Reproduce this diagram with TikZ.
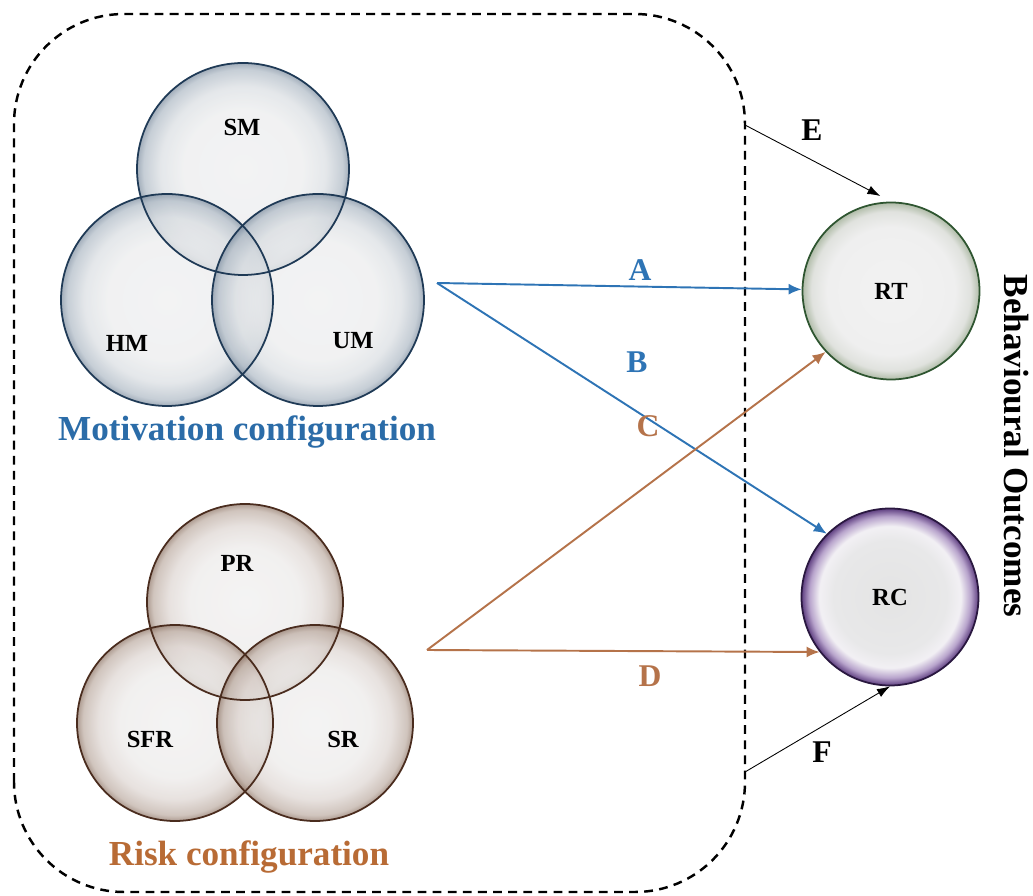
\documentclass[tikz,border=0pt]{standalone}
\usepackage{fontspec}
\setmainfont{Liberation Serif}
\usetikzlibrary{arrows.meta,positioning,calc}
\definecolor{MotBlue}{HTML}{2B6CA8}
\definecolor{ArrBlue}{HTML}{2E74B5}
\definecolor{RiskBrown}{HTML}{B86B35}
\definecolor{ArrBrown}{HTML}{B5734A}
\definecolor{MotLine}{HTML}{1F3A56}
\definecolor{RiskLine}{HTML}{4A2C1E}
\definecolor{RTLine}{HTML}{2E5530}
\definecolor{RCLine}{HTML}{2A1840}
% shading stops
\definecolor{MotA}{HTML}{EEEEEF}
\definecolor{MotB}{HTML}{EBECED}
\definecolor{MotC}{HTML}{DADEE2}
\definecolor{MotD}{HTML}{B0BBC6}
\definecolor{MotE}{HTML}{7E8EA0}
\definecolor{RiskA}{HTML}{F0EFEF}
\definecolor{RiskB}{HTML}{ECEAE9}
\definecolor{RiskC}{HTML}{DED6D2}
\definecolor{RiskD}{HTML}{BEAEA4}
\definecolor{RiskE}{HTML}{8E7566}
\definecolor{RTA}{HTML}{F2F2F2}
\definecolor{RTB}{HTML}{EFEFEF}
\definecolor{RTC}{HTML}{E0E2DE}
\definecolor{RTD}{HTML}{B0BCA8}
\definecolor{RCA}{HTML}{E4E4E4}
\definecolor{RCB}{HTML}{E8E8E9}
\definecolor{RCC}{HTML}{F2F0F4}
\definecolor{RCD}{HTML}{B8A4CC}
\definecolor{RCE}{HTML}{5E3E80}
\pgfdeclareradialshading{motshade}{\pgfpointorigin}{color(0bp)=(MotA); color(14bp)=(MotB); color(19.5bp)=(MotC); color(23.5bp)=(MotD); color(25bp)=(MotE); color(50bp)=(MotE)}
\pgfdeclareradialshading{riskshade}{\pgfpointorigin}{color(0bp)=(RiskA); color(14bp)=(RiskB); color(19.5bp)=(RiskC); color(23.5bp)=(RiskD); color(25bp)=(RiskE); color(50bp)=(RiskE)}
\pgfdeclareradialshading{rtshade}{\pgfpointorigin}{color(0bp)=(RTA); color(18bp)=(RTB); color(22.5bp)=(RTC); color(25bp)=(RTD); color(50bp)=(RTD)}
\pgfdeclareradialshading{rcshade}{\pgfpointorigin}{color(0bp)=(RCA); color(16bp)=(RCB); color(20bp)=(RCC); color(22.8bp)=(RCD); color(25bp)=(RCE); color(50bp)=(RCE)}
\tikzset{
  venn/.style={circle,inner sep=0pt,fill opacity=.72},
  motset/.style={venn,minimum size=4.24cm,shading=motshade},
  riskset/.style={venn,minimum size=3.92cm,shading=riskshade},
  outcome/.style={circle,draw,line width=1pt,minimum size=3.54cm,inner sep=0pt,
    font=\fontsize{14}{16}\selectfont\bfseries},
  setlabel/.style={font=\fontsize{14}{16}\selectfont\bfseries},
  pathlabel/.style={font=\fontsize{18}{20}\selectfont\bfseries},
  grouplabel/.style={font=\fontsize{20}{24}\selectfont\bfseries},
  motarrow/.style={-{Latex[length=2.6mm,width=2.2mm]},draw=ArrBlue,line width=1.1pt},
  riskarrow/.style={-{Latex[length=2.6mm,width=2.2mm]},draw=ArrBrown,line width=1.1pt},
  thinarrow/.style={-{Latex[length=2.6mm,width=1.8mm]},draw=black,line width=.5pt},
  dashbox/.style={draw=black,line width=1.4pt,dash pattern=on 5pt off 3.6pt,rounded corners=2.2cm}
}

\begin{document}
\begin{tikzpicture}
        \useasboundingbox (0,0) rectangle (20.66,17.92);
        \draw[dashbox] (0.28,0.08) rectangle (14.90,17.64);
        % motivation sets
        \node[motset] (sm) at (4.86,14.54) {};
        \node[motset] (hm) at (3.34,11.92) {};
        \node[motset] (um) at (6.36,11.92) {};
        \foreach \n in {sm,hm,um}
          \draw[MotLine,line width=1pt] (\n) circle[radius=2.12cm];
        \node[setlabel] (smtxt) at (4.84,15.38) {SM};
        \node[setlabel] (hmtxt) at (2.54,11.06) {HM};
        \node[setlabel] (umtxt) at (7.06,11.10) {UM};
        \node[grouplabel,text=MotBlue] (motlab) at (4.94,9.28) {Motivation configuration};
        % risk sets
        \node[riskset] (pr) at (4.90,5.88) {};
        \node[riskset] (sfr) at (3.50,3.46) {};
        \node[riskset] (sr) at (6.30,3.46) {};
        \foreach \n in {pr,sfr,sr}
          \draw[RiskLine,line width=1pt] (\n) circle[radius=1.96cm];
        \node[setlabel] (prtxt) at (4.74,6.66) {PR};
        \node[setlabel] (sfrtxt) at (3.00,3.14) {SFR};
        \node[setlabel] (srtxt) at (6.86,3.14) {SR};
        \node[grouplabel,text=RiskBrown] (risklab) at (4.98,0.78) {Risk configuration};
        % outcomes
        \node[outcome,draw=RTLine,shading=rtshade] (rt) at (17.82,12.10) {RT};
        \node[outcome,draw=RCLine,shading=rcshade] (rc) at (17.80,5.98) {RC};
        \node[grouplabel,rotate=-90] (beh) at (20.32,9.00) {Behavioural Outcomes};
        % paths
        \coordinate (motout) at (8.74,12.26);
        \coordinate (riskout) at (8.54,4.92);
        \coordinate (eout) at (14.90,15.42);
        \coordinate (fout) at (14.90,2.48);
        \draw[motarrow] (motout) -- (rt);
        \draw[motarrow] (motout) -- (rc.135);
        \draw[riskarrow] (riskout) -- (rt.223);
        \draw[riskarrow] (riskout) -- (rc.218);
        \draw[thinarrow,shorten >=.24cm] (eout) -- (rt.north);
        \draw[thinarrow] (fout) -- (rc.south);
        \node[pathlabel,text=ArrBlue] (alab) at (12.80,12.52) {A};
        \node[pathlabel,text=ArrBlue] (blab) at (12.74,10.68) {B};
        \node[pathlabel,text=ArrBrown] (clab) at (12.96,9.40) {C};
        \node[pathlabel,text=ArrBrown] (dlab) at (13.00,4.40) {D};
        \node[pathlabel] (elab) at (16.24,15.32) {E};
        \node[pathlabel] (flab) at (16.44,2.88) {F};
      \end{tikzpicture}
\end{document}
